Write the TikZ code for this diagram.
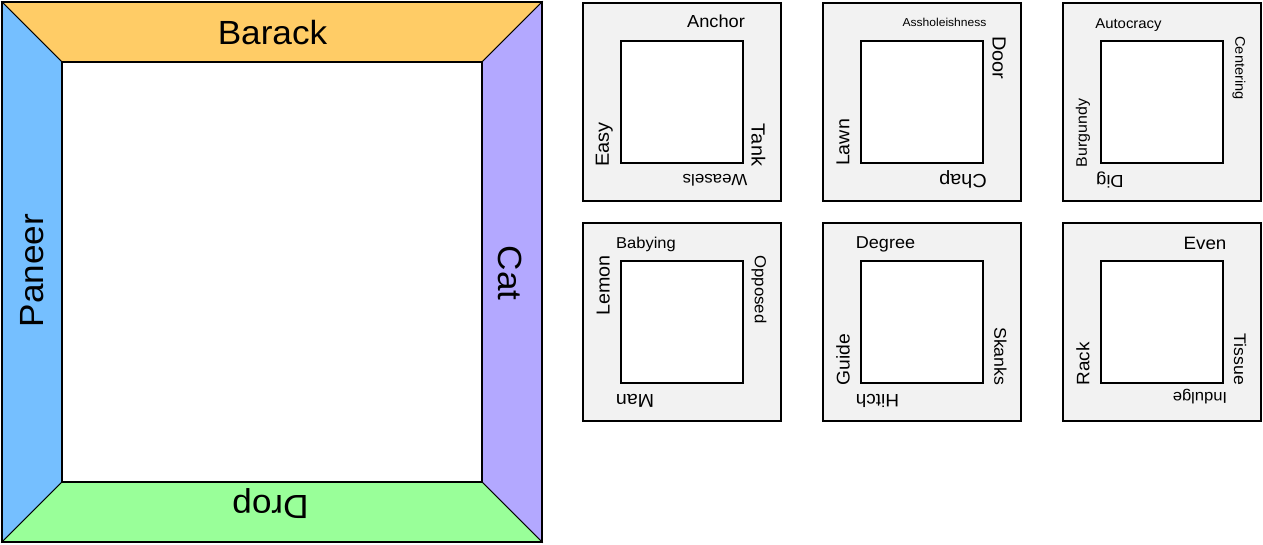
\documentclass[tikz,border=0pt]{standalone}
\usepackage{fontspec}
\setmainfont{Liberation Sans}
\newfontfamily\smf[FakeStretch=1.05]{Liberation Sans}
\newfontfamily\bgf[FakeStretch=1.05]{Liberation Sans}
\newcommand\fsz[1]{\fontsize{#1}{#1}\selectfont}
\definecolor{topc}{HTML}{FFCC66}
\definecolor{leftc}{HTML}{75BFFF}
\definecolor{rightc}{HTML}{B3A8FF}
\definecolor{botc}{HTML}{99FF99}
\definecolor{boxgray}{HTML}{F2F2F2}
\tikzset{
  band/.style={draw=black, line width=1pt, line join=miter},
  outerbox/.style={draw=black, fill=boxgray, line width=1.6pt, minimum size=198pt, inner sep=0pt},
  innerbox/.style={draw=black, fill=white, line width=1.8pt, minimum size=122pt, inner sep=0pt},
  lbl/.style={inner sep=0pt, text=black},
  biglbl/.style={inner sep=0pt, text=black, font=\bgf\fsz{33.5}},
}
\begin{document}
\begin{tikzpicture}[x=1pt,y=-1pt]
\useasboundingbox (0,0) rectangle (1263,545);
% big frame
\coordinate (o1) at (2,2); \coordinate (o2) at (542,2);
\coordinate (o3) at (542,542); \coordinate (o4) at (2,542);
\coordinate (i1) at (62,62); \coordinate (i2) at (482,62);
\coordinate (i3) at (482,482); \coordinate (i4) at (62,482);
\filldraw[band, fill=topc] (o1) -- (o2) -- (i2) -- (i1) -- cycle;
\filldraw[band, fill=leftc] (o1) -- (i1) -- (i4) -- (o4) -- cycle;
\filldraw[band, fill=rightc] (o2) -- (o3) -- (i3) -- (i2) -- cycle;
\filldraw[band, fill=botc] (o4) -- (i4) -- (i3) -- (o3) -- cycle;
\draw[line width=2pt] (o1) rectangle (o3);
\filldraw[fill=white, draw=black, line width=2.2pt] (i1) rectangle (i3);
\node[biglbl] (barack) at (272.5,33) {Barack};
\node[biglbl, rotate=90] (paneer) at (32.3,270.5) {Paneer};
\node[biglbl, rotate=-90] (cat) at (510,273) {Cat};
\node[biglbl, rotate=180] (drop) at (270.5,504) {Drop};
% small boxes
\foreach \n/\cx/\cy in {1/682/102, 2/922/102, 3/1162/102, 4/682/322, 5/922/322, 6/1162/322}{
  \node[outerbox] (ob\n) at (\cx,\cy) {};
  \node[innerbox] (ib\n) at (\cx,\cy) {};
}
% box 1
\node[lbl, font=\smf\fsz{17.4}] (anchor) at (716,21.3) {Anchor};
\node[lbl, font=\smf\fsz{19}, rotate=90] (easy) at (604.3,144.5) {Easy};
\node[lbl, font=\smf\fsz{19}, rotate=-90] (tank) at (758.5,145) {Tank};
\node[lbl, font=\smf\fsz{16.1}, rotate=180] (weasels) at (715,180) {Weasels};
% box 2
\node[lbl, font=\smf\fsz{11.5}] (ass) at (944.5,22) {Assholeishness};
\node[lbl, font=\smf\fsz{19}, rotate=-90] (door) at (999,58) {Door};
\node[lbl, font=\smf\fsz{18.7}, rotate=90] (lawn) at (843,142.5) {Lawn};
\node[lbl, font=\smf\fsz{19}, rotate=180] (chap) at (963,179) {Chap};
% box 3
\node[lbl, font=\smf\fsz{14.2}] (auto) at (1128.5,25) {Autocracy};
\node[lbl, font=\smf\fsz{13.9}, rotate=-90] (cent) at (1239,68) {Centering};
\node[lbl, font=\smf\fsz{15.2}, rotate=90] (burg) at (1083,133) {Burgundy};
\node[lbl, font=\smf\fsz{17.4}, rotate=180] (dig) at (1110,180) {Dig};
% box 4
\node[lbl, font=\smf\fsz{15.7}] (baby) at (646,244) {Babying};
\node[lbl, font=\smf\fsz{18.8}, rotate=90] (lemon) at (603.3,285.5) {Lemon};
\node[lbl, font=\smf\fsz{16}, rotate=-90] (opp) at (759,289.5) {Opposed};
\node[lbl, font=\smf\fsz{18.7}, rotate=180] (man) at (635,400.5) {Man};
% box 5
\node[lbl, font=\smf\fsz{17.2}] (degree) at (885.5,244) {Degree};
\node[lbl, font=\smf\fsz{18.4}, rotate=90] (guide) at (843,359.7) {Guide};
\node[lbl, font=\smf\fsz{16.9}, rotate=-90] (skanks) at (1000.3,356.3) {Skanks};
\node[lbl, font=\smf\fsz{18}, rotate=180] (hitch) at (877.5,400.5) {Hitch};
% box 6
\node[lbl, font=\smf\fsz{17.9}] (even) at (1205,243) {Even};
\node[lbl, font=\smf\fsz{18}, rotate=90] (rack) at (1083,364) {Rack};
\node[lbl, font=\smf\fsz{16.8}, rotate=-90] (tissue) at (1240,359.3) {Tissue};
\node[lbl, font=\smf\fsz{15.8}, rotate=180] (indulge) at (1200,397) {Indulge};
\end{tikzpicture}
\end{document}
